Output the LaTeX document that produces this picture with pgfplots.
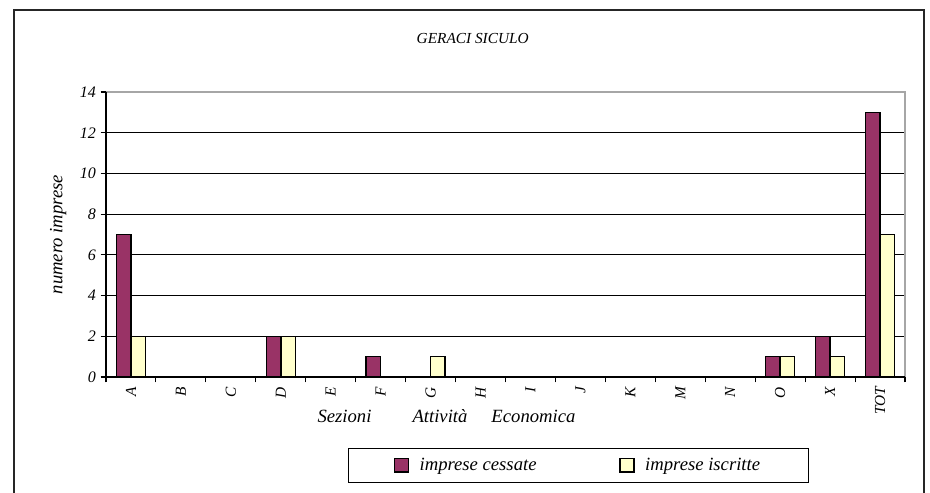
\documentclass[border=0pt]{standalone}
\usepackage{fontspec}
\setmainfont{Liberation Serif}
\usepackage{pgfplots}
\pgfplotsset{compat=1.18}
\definecolor{cess}{HTML}{993366}
\definecolor{iscr}{HTML}{FFFFCC}

\begin{document}
\begin{tikzpicture}
\begin{axis}[
  scale only axis, width=599.25pt, height=213.75pt,
  clip=false,
  xmin=-0.5, xmax=15.5, ymin=0, ymax=14,
  ybar=0pt, bar width=10.9pt,
  axis x line*=bottom, axis y line*=left,
  axis line style={black, line width=1.1pt},
  ymajorgrids, major grid style={black, line width=0.7pt},
  ytick={0,2,...,14},
  tick align=outside,
  major tick length=4pt, minor tick length=4pt,
  y tick style={black, line width=0.8pt},
  xtick={0,...,15},
  xticklabels={A,B,C,D,E,F,G,H,I,J,K,M,N,O,X,TOT},
  major x tick style={draw=none},
  minor xtick={-0.5,0.5,...,15.5},
  minor x tick style={black, line width=0.8pt},
  /pgf/number format/assume math mode=true,
  yticklabel style={font=\fontsize{12}{14}\selectfont\itshape},
  xticklabel style={rotate=90, anchor=east, font=\fontsize{11.5}{13}\selectfont\itshape},
  ylabel={numero imprese},
  ylabel style={at={(axis description cs:-0.06,0.5)}, anchor=center, font=\fontsize{14}{16}\selectfont\itshape},
  title={GERACI SICULO},
  title style={at={(rel axis cs:0.459,1.158)}, anchor=center, font=\fontsize{11.5}{13}\selectfont\itshape},
  legend columns=2,
  legend image code/.code={\draw[#1, line width=1pt] (0pt,-5pt) rectangle (10.5pt,5pt);},
  legend style={at={(rel axis cs:0.591,-0.3105)}, anchor=center, draw=black, line width=0.75pt,
    font=\fontsize{14}{16}\selectfont\itshape, inner xsep=34pt, inner ysep=5pt,
    /tikz/every odd column/.append style={column sep=6pt},
    /tikz/every even column/.append style={column sep=60pt}},
]
\addplot[fill=cess, draw=black, line width=1.1pt] coordinates {(0,7) (3,2) (5,1) (13,1) (14,2) (15,13)};
\addlegendentry{imprese cessate}
\addplot[fill=iscr, draw=black, line width=1.1pt] coordinates {(0,2) (3,2) (6,1) (13,1) (14,1) (15,7)};
\addlegendentry{imprese iscritte}
\draw[gray!70, line width=1.1pt] (rel axis cs:0,1) -- (rel axis cs:1,1) -- (rel axis cs:1,0);
\draw[black, line width=1.1pt] (rel axis cs:0,1) -- (rel axis cs:0,0) -- (rel axis cs:1,0);
\draw[black!85, line width=1.1pt] (rel axis cs:-0.1151,-0.4316) rectangle (rel axis cs:1.0238,1.2877);
\node[font=\fontsize{14}{16}\selectfont\itshape, anchor=center] at (rel axis cs:0.2985,-0.137) {Sezioni};
\node[font=\fontsize{14}{16}\selectfont\itshape, anchor=center] at (rel axis cs:0.418,-0.137) {Attività};
\node[font=\fontsize{14}{16}\selectfont\itshape, anchor=center] at (rel axis cs:0.535,-0.137) {Economica};
\coordinate (bl) at (rel axis cs:-0.13267,-0.40702);
\coordinate (tr) at (rel axis cs:1.03129,1.32281);
\end{axis}
\pgfresetboundingbox
\path[use as bounding box] (bl) rectangle (tr);
\end{tikzpicture}
\end{document}
